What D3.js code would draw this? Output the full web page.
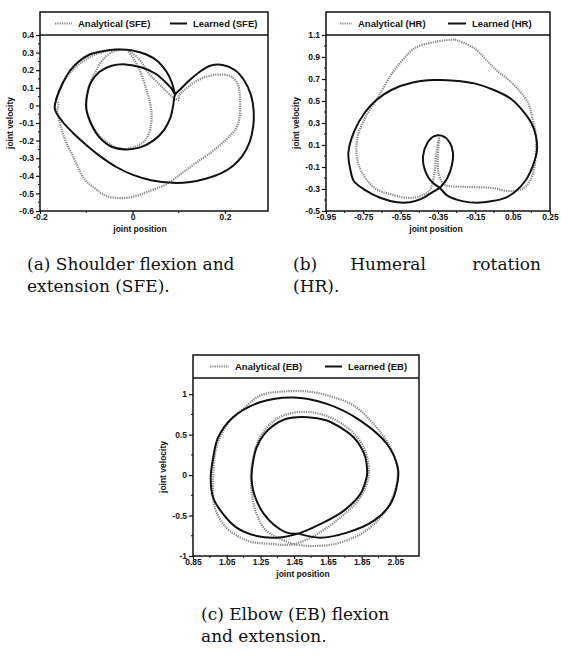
<!DOCTYPE html>
<html>
<head>
<meta charset="utf-8">
<script src="https://cdn.jsdelivr.net/npm/d3@7"></script>
<style>
body { margin: 0; background: #fff; }
svg { display: block; }
.tk { font: bold 8.5px "Liberation Sans", Arial, sans-serif; fill: #111; }
.lg { font: bold 9.5px "Liberation Sans", Arial, sans-serif; fill: #111; }
.cap { font: 17px "DejaVu Serif", serif; fill: #111; }
</style>
</head>
<body>
<script>
// ---- data: [joint position, joint velocity] ----
var sfeLearned = [[0.092,0.06],[0.085,0.13],[0.073,0.194],[0.055,0.25],[0.03,0.289],[0.0,0.312],[-0.035,0.317],[-0.065,0.308],[-0.093,0.289],[-0.118,0.245],[-0.136,0.194],[-0.152,0.12],[-0.163,0.05],[-0.168,-0.02],[-0.152,-0.09],[-0.129,-0.155],[-0.1,-0.225],[-0.071,-0.287],[-0.035,-0.35],[0.001,-0.395],[0.04,-0.425],[0.087,-0.44],[0.125,-0.435],[0.16,-0.415],[0.192,-0.385],[0.217,-0.344],[0.238,-0.285],[0.253,-0.21],[0.261,-0.12],[0.262,-0.03],[0.256,0.06],[0.242,0.14],[0.222,0.2],[0.195,0.23],[0.168,0.225],[0.145,0.19],[0.122,0.14],[0.103,0.09],[0.092,0.06],[0.088,0.0],[0.082,-0.07],[0.068,-0.14],[0.045,-0.2],[0.015,-0.24],[-0.014,-0.25],[-0.045,-0.235],[-0.072,-0.18],[-0.09,-0.1],[-0.1,-0.02],[-0.098,0.06],[-0.09,0.13],[-0.072,0.19],[-0.045,0.225],[-0.015,0.233],[0.02,0.215],[0.05,0.18],[0.072,0.13],[0.086,0.09],[0.092,0.06]];
var sfeAnalytical = [[-0.014,-0.249],[0.012,-0.228],[0.03,-0.19],[0.04,-0.108],[0.041,-0.04],[0.037,0.024],[0.03,0.09],[0.022,0.157],[0.012,0.22],[0.001,0.27],[-0.01,0.312],[0.012,0.27],[0.037,0.176],[0.06,0.115],[0.073,0.081],[0.088,0.045],[0.1,0.03],[0.1,0.055],[0.107,0.075],[0.132,0.128],[0.161,0.164],[0.186,0.175],[0.212,0.166],[0.226,0.128],[0.232,0.07],[0.233,0.01],[0.232,-0.061],[0.225,-0.126],[0.203,-0.193],[0.174,-0.259],[0.138,-0.325],[0.109,-0.381],[0.073,-0.448],[0.037,-0.486],[0.008,-0.514],[-0.024,-0.527],[-0.057,-0.514],[-0.082,-0.47],[-0.104,-0.419],[-0.118,-0.35],[-0.129,-0.287],[-0.142,-0.22],[-0.151,-0.155],[-0.158,-0.09],[-0.163,-0.03],[-0.16,0.01],[-0.165,0.03],[-0.158,0.08],[-0.148,0.14],[-0.13,0.2],[-0.108,0.25],[-0.08,0.29],[-0.05,0.312],[-0.025,0.318],[-0.043,0.305],[-0.064,0.26],[-0.078,0.2],[-0.088,0.15],[-0.096,0.09],[-0.1,0.02],[-0.095,-0.07],[-0.082,-0.14],[-0.06,-0.2],[-0.035,-0.24],[-0.014,-0.249]];

var hrLearned = [[-0.34,-0.29],[-0.3,-0.2],[-0.275,-0.08],[-0.27,0.03],[-0.29,0.13],[-0.33,0.185],[-0.37,0.18],[-0.41,0.11],[-0.43,0.0],[-0.425,-0.1],[-0.4,-0.2],[-0.37,-0.255],[-0.34,-0.29],[-0.3,-0.36],[-0.22,-0.41],[-0.14,-0.425],[-0.06,-0.41],[0.01,-0.38],[0.06,-0.33],[0.12,-0.22],[0.16,-0.08],[0.18,0.05],[0.175,0.18],[0.15,0.3],[0.1,0.42],[0.04,0.52],[-0.05,0.6],[-0.155,0.66],[-0.26,0.685],[-0.37,0.69],[-0.48,0.67],[-0.6,0.6],[-0.68,0.51],[-0.74,0.4],[-0.8,0.22],[-0.83,0.03],[-0.82,-0.12],[-0.8,-0.23],[-0.74,-0.31],[-0.66,-0.38],[-0.57,-0.42],[-0.5,-0.42],[-0.44,-0.39],[-0.39,-0.34],[-0.34,-0.29]];
var hrAnalytical = [[-0.262,1.06],[-0.36,1.04],[-0.475,0.98],[-0.546,0.86],[-0.6,0.74],[-0.67,0.54],[-0.733,0.37],[-0.778,0.19],[-0.786,0.01],[-0.76,-0.14],[-0.69,-0.29],[-0.6,-0.35],[-0.49,-0.38],[-0.4,-0.32],[-0.37,-0.17],[-0.36,0.01],[-0.345,0.16],[-0.35,0.0],[-0.345,-0.17],[-0.315,-0.26],[-0.21,-0.28],[-0.066,-0.29],[0.04,-0.32],[0.11,-0.29],[0.15,-0.2],[0.165,-0.11],[0.174,0.03],[0.174,0.19],[0.155,0.35],[0.13,0.49],[0.04,0.675],[-0.03,0.77],[-0.084,0.86],[-0.155,0.98],[-0.262,1.06]];

var ebLearned = [[1.475,-0.723],[1.406,-0.711],[1.326,-0.607],[1.27,-0.48],[1.23,-0.33],[1.207,-0.194],[1.197,-0.03],[1.205,0.15],[1.227,0.343],[1.27,0.5],[1.326,0.612],[1.395,0.69],[1.465,0.715],[1.56,0.71],[1.644,0.674],[1.73,0.58],[1.802,0.467],[1.85,0.33],[1.872,0.219],[1.882,0.012],[1.865,-0.13],[1.842,-0.236],[1.743,-0.442],[1.604,-0.607],[1.475,-0.723],[1.346,-0.773],[1.227,-0.752],[1.108,-0.649],[1.029,-0.483],[0.969,-0.277],[0.955,-0.03],[0.97,0.22],[0.999,0.467],[1.088,0.715],[1.247,0.9],[1.445,0.96],[1.644,0.88],[1.842,0.674],[2.0,0.384],[2.064,0.095],[2.064,-0.07],[2.02,-0.36],[1.921,-0.566],[1.763,-0.711],[1.604,-0.773],[1.475,-0.723]];
var ebAnalytical = [[1.445,-0.855],[1.286,-0.69],[1.227,-0.483],[1.197,-0.194],[1.197,0.095],[1.247,0.467],[1.346,0.694],[1.465,0.777],[1.604,0.756],[1.763,0.591],[1.862,0.343],[1.892,0.012],[1.842,-0.277],[1.723,-0.525],[1.584,-0.731],[1.445,-0.855],[1.31,-0.85],[1.177,-0.814],[1.048,-0.649],[0.979,-0.4],[0.969,-0.07],[0.989,0.343],[1.068,0.674],[1.148,0.818],[1.247,0.983],[1.366,1.03],[1.545,1.03],[1.683,0.963],[1.802,0.86],[1.921,0.632],[2.02,0.343],[2.064,0.054],[2.04,-0.236],[1.961,-0.525],[1.842,-0.731],[1.683,-0.855],[1.545,-0.876],[1.445,-0.855]];

// ticks
var sfeXTicks = [-0.2, 0, 0.2];
var sfeYTicks = [0.4, 0.3, 0.2, 0.1, 0, -0.1, -0.2, -0.3, -0.4, -0.5, -0.6];
var hrXTicks = [-0.95, -0.75, -0.55, -0.35, -0.15, 0.05, 0.25];
var hrYTicks = [1.1, 0.9, 0.7, 0.5, 0.3, 0.1, -0.1, -0.3, -0.5];
var ebXTicks = [0.85, 1.05, 1.25, 1.45, 1.65, 1.85, 2.05];
var ebYTicks = [1, 0.5, 0, -0.5, -1];

var svg = d3.select("body").append("svg").attr("width", 561).attr("height", 659);

function fmt(v) { return v === 0 ? "0" : String(v); }

function drawPanel(p) {
  var g = svg.append("g");
  var x = d3.scaleLinear().domain(p.xDomain).range([p.left, p.right]);
  var y = d3.scaleLinear().domain(p.yDomain).range([p.bottom, p.band]);

  var clipId = "clip" + p.id;
  svg.append("clipPath").attr("id", clipId).append("rect")
    .attr("x", p.left).attr("y", p.band).attr("width", p.right - p.left).attr("height", p.bottom - p.band);

  var line = d3.line().x(d => x(d[0])).y(d => y(d[1])).curve(d3.curveCatmullRom.alpha(0.5));

  var plot = g.append("g").attr("clip-path", "url(#" + clipId + ")");
  plot.append("path").attr("d", line(p.analytical))
    .attr("fill", "none").attr("stroke", "#8c8c8c").attr("stroke-width", 2.2)
    .attr("stroke-dasharray", "1.3 1");
  plot.append("path").attr("d", line(p.learned))
    .attr("fill", "none").attr("stroke", "#111").attr("stroke-width", 2);

  // axes
  var xAxis = d3.axisBottom(x).tickValues(p.xTicks).tickFormat(fmt).tickSize(3).tickPadding(0);
  var ax = g.append("g").attr("transform", "translate(0," + p.bottom + ")").call(xAxis);
  var yAxis = d3.axisLeft(y).tickValues(p.yTicks).tickFormat(fmt).tickSize(4).tickPadding(2);
  var ay = g.append("g").attr("transform", "translate(" + p.left + ",0)").call(yAxis);
  [ax, ay].forEach(function(a) {
    a.select(".domain").remove();
    a.selectAll("line").attr("stroke", "#111").attr("stroke-width", 1.2);
    a.selectAll("text").attr("class", "tk").attr("font-size", null).attr("font-family", null);
  });

  // minor ticks halfway between majors
  var xm = d3.pairs(p.xTicks).map(d => (d[0] + d[1]) / 2);
  var ym = d3.pairs(p.yTicks).map(d => (d[0] + d[1]) / 2);
  g.selectAll(".xm" + p.id).data(xm).join("line")
    .attr("x1", d => x(d)).attr("x2", d => x(d)).attr("y1", p.bottom).attr("y2", p.bottom + 2)
    .attr("stroke", "#111");
  g.selectAll(".ym" + p.id).data(ym).join("line")
    .attr("x1", p.left - 2).attr("x2", p.left).attr("y1", d => y(d)).attr("y2", d => y(d))
    .attr("stroke", "#111");

  // frame and legend band
  g.append("rect").attr("x", p.left).attr("y", p.top).attr("width", p.right - p.left).attr("height", p.bottom - p.top)
    .attr("fill", "none").attr("stroke", "#111").attr("stroke-width", 1.5);
  g.append("line").attr("x1", p.left).attr("x2", p.right).attr("y1", p.band).attr("y2", p.band)
    .attr("stroke", "#111").attr("stroke-width", 1.5);

  var ly = (p.top + p.band) / 2;
  g.append("line").attr("x1", p.legA[0]).attr("x2", p.legA[1]).attr("y1", ly).attr("y2", ly)
    .attr("stroke", "#8c8c8c").attr("stroke-width", 2.2).attr("stroke-dasharray", "1.3 1");
  g.append("text").attr("class", "lg").attr("x", p.legA[1] + 6).attr("y", ly + 3.5).text(p.nameA);
  g.append("line").attr("x1", p.legL[0]).attr("x2", p.legL[1]).attr("y1", ly).attr("y2", ly)
    .attr("stroke", "#111").attr("stroke-width", 2);
  g.append("text").attr("class", "lg").attr("x", p.legL[1] + 6).attr("y", ly + 3.5).text(p.nameL);

  // axis titles
  g.append("text").attr("class", "tk").attr("text-anchor", "middle")
    .attr("x", p.xTitle).attr("y", p.bottom + 21).text("joint position");
  g.append("text").attr("class", "tk").attr("text-anchor", "middle")
    .attr("transform", "translate(" + (p.left - 27) + "," + ((p.band + p.bottom) / 2) + ") rotate(-90)")
    .text("joint velocity");
}

drawPanel({ id: "a", left: 40, right: 268, top: 12, band: 35, bottom: 211, xTitle: 140,
  xDomain: [-0.2, 0.293], yDomain: [-0.6, 0.4], xTicks: sfeXTicks, yTicks: sfeYTicks,
  analytical: sfeAnalytical, learned: sfeLearned,
  legA: [55, 72], legL: [170, 187], nameA: "Analytical (SFE)", nameL: "Learned (SFE)" });

drawPanel({ id: "b", left: 326, right: 550, top: 12, band: 35, bottom: 211, xTitle: 436,
  xDomain: [-0.95, 0.25], yDomain: [-0.5, 1.1], xTicks: hrXTicks, yTicks: hrYTicks,
  analytical: hrAnalytical, learned: hrLearned,
  legA: [340, 352], legL: [448, 466], nameA: "Analytical (HR)", nameL: "Learned (HR)" });

drawPanel({ id: "c", left: 193, right: 419, top: 355, band: 378, bottom: 556, xTitle: 303,
  xDomain: [0.85, 2.19], yDomain: [-1, 1.2], xTicks: ebXTicks, yTicks: ebYTicks,
  analytical: ebAnalytical, learned: ebLearned,
  legA: [210, 229], legL: [325, 342], nameA: "Analytical (EB)", nameL: "Learned (EB)" });

// captions
svg.append("text").attr("class", "cap").attr("x", 27).attr("y", 270).text("(a) Shoulder flexion and");
svg.append("text").attr("class", "cap").attr("x", 27).attr("y", 292).text("extension (SFE).");
svg.append("text").attr("class", "cap").attr("x", 293).attr("y", 270).text("(b)");
svg.append("text").attr("class", "cap").attr("x", 388).attr("y", 270).attr("text-anchor", "middle").text("Humeral");
svg.append("text").attr("class", "cap").attr("x", 541).attr("y", 270).attr("text-anchor", "end").text("rotation");
svg.append("text").attr("class", "cap").attr("x", 293).attr("y", 292).text("(HR).");
svg.append("text").attr("class", "cap").attr("x", 201).attr("y", 620).text("(c) Elbow (EB) flexion");
svg.append("text").attr("class", "cap").attr("x", 201).attr("y", 642).text("and extension.");
</script>
</body>
</html>
